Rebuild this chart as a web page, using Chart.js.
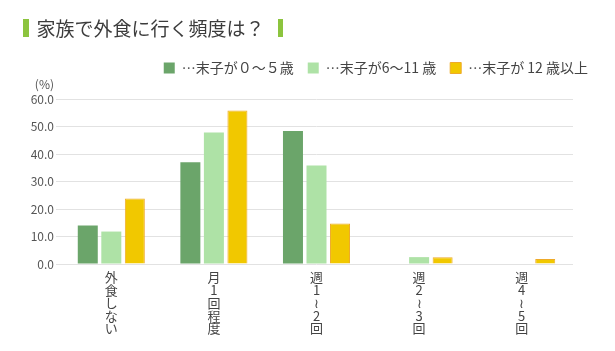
<!DOCTYPE html>
<html>
<head>
<meta charset="utf-8">
<script src="https://cdn.jsdelivr.net/npm/chart.js@4"></script>
<style>
html,body{margin:0;padding:0;background:#fff;}
#wrap{position:relative;width:615px;height:351px;}
#title{position:absolute;left:23px;top:19px;height:18px;display:flex;align-items:center;font-family:"Noto Sans CJK JP","Noto Sans",sans-serif;font-size:19px;color:#3c3c3c;white-space:nowrap;letter-spacing:0px;}
#title .bar{width:5.5px;height:18px;background:#8cc43e;display:inline-block;}
#title .t{margin:0 13px 0 8px;line-height:18px;}
canvas{position:absolute;left:0;top:0;}
</style>
</head>
<body>
<div id="wrap">
<canvas id="c" width="615" height="351"></canvas>
<div id="title"><span class="bar"></span><span class="t">家族で外食に行く頻度は？</span><span class="bar"></span></div>
</div>
<script>
const categories = ['外食しない','月1回程度','週1～2回','週2～3回','週4～5回'];
const seriesNames = ['…末子が０～５歳','…末子が6～11 歳','…末子が 12 歳以上'];
const youngest0to5 = [14.0, 37.0, 48.4, 0, 0];
const youngest6to11 = [11.8, 47.8, 35.8, 2.5, 0];
const youngest12up = [23.8, 55.8, 14.7, 2.5, 1.8];
const yTicks = [0, 10, 20, 30, 40, 50, 60];

const verticalLabels = categories.map(s => Array.from(s).map(ch => ch === '～' ? '≀' : ch));
const FONT = '"Noto Sans CJK JP","Noto Sans",sans-serif';

const percentLabel = {
  id: 'percentLabel',
  afterDraw(chart) {
    const ctx = chart.ctx;
    ctx.save();
    ctx.font = '12px ' + FONT;
    ctx.fillStyle = '#555';
    ctx.textAlign = 'right';
    ctx.textBaseline = 'middle';
    ctx.fillText('(%)', 54, 84);
    ctx.restore();
  }
};
const legendShift = {
  id: 'legendShift',
  beforeInit(chart) {
    const lg = chart.legend;
    if (lg) {
      const origFit = lg.fit;
      lg.fit = function () { origFit.call(this); this.height += 14; };
    }
  },
  afterLayout(chart) {
    if (chart.legend) { chart.legend.right = 602; }
  }
};

new Chart(document.getElementById('c'), {
  type: 'bar',
  data: {
    labels: verticalLabels,
    datasets: [
      { label: seriesNames[0], data: youngest0to5, backgroundColor: '#6ba56a', borderColor: '#6ba56a', borderWidth: 0 },
      { label: seriesNames[1], data: youngest6to11, backgroundColor: '#aee2a6', borderColor: '#aee2a6', borderWidth: 0 },
      { label: seriesNames[2], data: youngest12up, backgroundColor: '#f1c800', borderColor: '#eeaa2a', borderWidth: 1 }
    ]
  },
  options: {
    responsive: false,
    animation: false,
    categoryPercentage: 0.688,
    barPercentage: 0.85,
    layout: { padding: { left: 0, right: 42, top: 47, bottom: 0 } },
    plugins: {
      tooltip: { enabled: false },
      legend: {
        position: 'top',
        align: 'end',
        labels: {
          boxWidth: 11, boxHeight: 11, padding: 14,
          color: '#444',
          font: { family: FONT, size: 14 }
        }
      }
    },
    scales: {
      x: {
        grid: { display: false, drawTicks: false },
        border: { display: false },
        ticks: {
          autoSkip: false, maxRotation: 0, minRotation: 0, padding: 7,
          color: '#444',
          font: { family: FONT, size: 13, lineHeight: 0.98 }
        },
        afterFit(scale) { scale.height = 87; }
      },
      y: {
        min: 0, max: 60,
        afterBuildTicks(scale) { scale.ticks = yTicks.map(v => ({ value: v })); },
        grid: { color: '#e2e2e2', tickLength: 4, lineWidth: 1 },
        border: { display: false },
        ticks: {
          padding: 2, color: '#555',
          font: { family: FONT, size: 12 },
          callback: v => Number(v).toFixed(1)
        },
        afterFit(scale) { scale.width = 60; }
      }
    }
  },
  plugins: [percentLabel, legendShift]
});
</script>
</body>
</html>
